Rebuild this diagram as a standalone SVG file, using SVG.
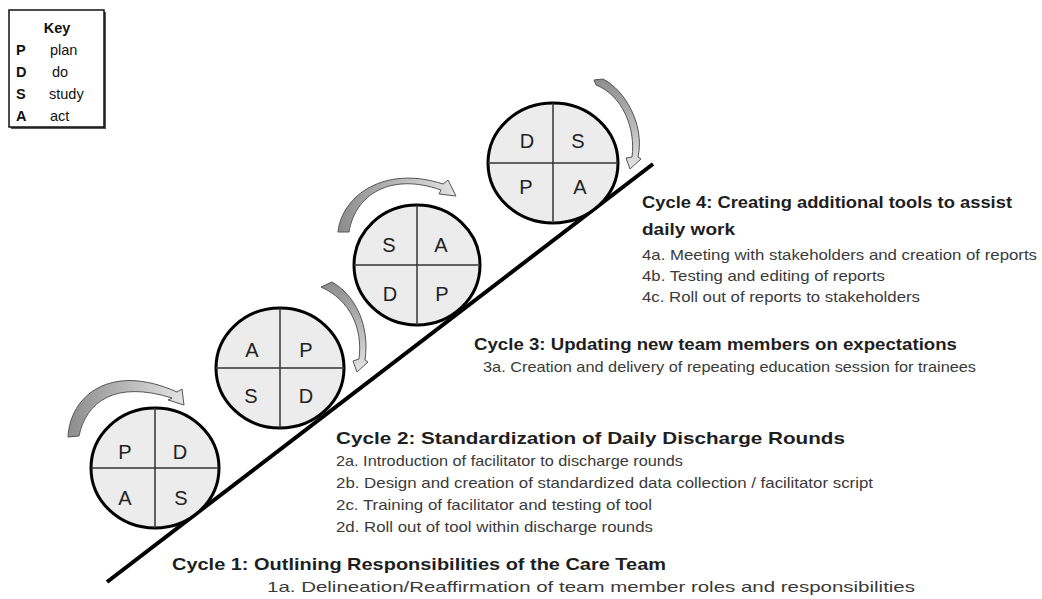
<svg xmlns="http://www.w3.org/2000/svg" width="1042" height="599" viewBox="0 0 1042 599">
<defs>
<style>
.circ{fill:#ececec;stroke:#000;stroke-width:3}
.div{stroke:#333;stroke-width:1.5;fill:none}
.lt{font-family:"Liberation Sans",Arial,sans-serif;font-size:20px;fill:#222;text-anchor:middle}
.ttl{font-family:"Liberation Sans",Arial,sans-serif;font-size:17px;font-weight:bold;fill:#1e1e1e}
.bd{font-family:"Liberation Sans",Arial,sans-serif;font-size:14.5px;fill:#3a3a3a}
.key{font-family:"Liberation Sans",Arial,sans-serif;font-size:14.5px;fill:#111}
.kb{font-weight:bold}
.arr{stroke:#555;stroke-width:1;stroke-linejoin:round}
</style>
<linearGradient id="gh" x1="0" y1="0" x2="1" y2="0">
<stop offset="0" stop-color="#8c8c8c"/><stop offset="1" stop-color="#e4e4e4"/>
</linearGradient>
<linearGradient id="gv" x1="0" y1="0" x2="0" y2="1">
<stop offset="0" stop-color="#8c8c8c"/><stop offset="1" stop-color="#e4e4e4"/>
</linearGradient>
</defs>
<rect width="1042" height="599" fill="#fff"/>

<g id="key">
<rect x="11" y="12" width="95" height="117" fill="#555"/>
<rect x="9" y="10" width="95" height="117" fill="#fff" stroke="#111" stroke-width="1.5"/>
<text class="key kb" x="57" y="33" text-anchor="middle">Key</text>
<text class="key kb" x="16" y="55">P</text><text class="key" x="50" y="55">plan</text>
<text class="key kb" x="16" y="77">D</text><text class="key" x="52" y="77">do</text>
<text class="key kb" x="16" y="99">S</text><text class="key" x="49" y="99">study</text>
<text class="key kb" x="16" y="121">A</text><text class="key" x="50" y="121">act</text>
</g>

<g id="connectors">
<line x1="107" y1="582" x2="653" y2="164" stroke="#000" stroke-width="4"/>
<path class="arr" fill="url(#gh)" d="M68,437 C70,396 110,362 177,392 L182,389 L184,405 L168,400 L172,398 C115,380 86,402 79,436 Z"/>
<path class="arr" fill="url(#gv)" d="M321,287 L332,282 C355,295 370,325 365,360 L368,362 L357,372 L353,361 L359,359 C363,328 350,300 321,287 Z"/>
<path class="arr" fill="url(#gh)" d="M338,232 C342,195 385,165 443,184 L448,180 L456,196 L439,194 L441,190 C390,172 355,195 349,232 Z"/>
<path class="arr" fill="url(#gv)" d="M594,80 L603,79 C625,90 645,125 638,157 L641,159 L630,169 L626,158 L632,157 C636,128 622,95 596,85 Z"/>
</g>

<g id="cycle1-circle">
<ellipse class="circ" cx="155" cy="468" rx="64" ry="60"/>
<line class="div" x1="91" y1="468" x2="219" y2="468"/>
<line class="div" x1="155" y1="408" x2="155" y2="528"/>
<text class="lt" x="125" y="459">P</text><text class="lt" x="180" y="459">D</text>
<text class="lt" x="125" y="505">A</text><text class="lt" x="181" y="505">S</text>
</g>

<g id="cycle2-circle">
<ellipse class="circ" cx="280" cy="368" rx="64" ry="60"/>
<line class="div" x1="216" y1="368" x2="344" y2="368"/>
<line class="div" x1="280" y1="308" x2="280" y2="428"/>
<text class="lt" x="252" y="357">A</text><text class="lt" x="306" y="357">P</text>
<text class="lt" x="251" y="403">S</text><text class="lt" x="306" y="403">D</text>
</g>

<g id="cycle3-circle">
<ellipse class="circ" cx="417" cy="265" rx="63" ry="60"/>
<line class="div" x1="354" y1="265" x2="480" y2="265"/>
<line class="div" x1="417" y1="205" x2="417" y2="325"/>
<text class="lt" x="389" y="252">S</text><text class="lt" x="441" y="252">A</text>
<text class="lt" x="390" y="301">D</text><text class="lt" x="442" y="301">P</text>
</g>

<g id="cycle4-circle">
<ellipse class="circ" cx="553" cy="163" rx="65" ry="60"/>
<line class="div" x1="488" y1="163" x2="618" y2="163"/>
<line class="div" x1="553" y1="103" x2="553" y2="223"/>
<text class="lt" x="527" y="148">D</text><text class="lt" x="578" y="148">S</text>
<text class="lt" x="526" y="194">P</text><text class="lt" x="580" y="194">A</text>
</g>

<g id="cycle4-text">
<text class="ttl" x="642" y="208" textLength="370" lengthAdjust="spacingAndGlyphs">Cycle 4: Creating additional tools to assist</text>
<text class="ttl" x="642" y="235" textLength="93" lengthAdjust="spacingAndGlyphs">daily work</text>
<text class="bd" x="642" y="260" textLength="395" lengthAdjust="spacingAndGlyphs">4a. Meeting with stakeholders and creation of reports</text>
<text class="bd" x="642" y="281" textLength="243" lengthAdjust="spacingAndGlyphs">4b. Testing and editing of reports</text>
<text class="bd" x="642" y="302" textLength="278" lengthAdjust="spacingAndGlyphs">4c. Roll out of reports to stakeholders</text>
</g>

<g id="cycle3-text">
<text class="ttl" x="474" y="350" textLength="483" lengthAdjust="spacingAndGlyphs">Cycle 3: Updating new team members on expectations</text>
<text class="bd" x="483" y="372" textLength="493" lengthAdjust="spacingAndGlyphs">3a. Creation and delivery of repeating education session for trainees</text>
</g>

<g id="cycle2-text">
<text class="ttl" x="336" y="444" textLength="509" lengthAdjust="spacingAndGlyphs">Cycle 2: Standardization of Daily Discharge Rounds</text>
<text class="bd" x="336" y="466" textLength="347" lengthAdjust="spacingAndGlyphs">2a. Introduction of facilitator to discharge rounds</text>
<text class="bd" x="336" y="488" textLength="537" lengthAdjust="spacingAndGlyphs">2b. Design and creation of standardized data collection / facilitator script</text>
<text class="bd" x="336" y="510" textLength="316" lengthAdjust="spacingAndGlyphs">2c. Training of facilitator and testing of tool</text>
<text class="bd" x="336" y="532" textLength="317" lengthAdjust="spacingAndGlyphs">2d. Roll out of tool within discharge rounds</text>
</g>

<g id="cycle1-text">
<text class="ttl" x="172" y="570" textLength="494" lengthAdjust="spacingAndGlyphs">Cycle 1: Outlining Responsibilities of the Care Team</text>
<text class="bd" x="267" y="592" textLength="648" lengthAdjust="spacingAndGlyphs">1a. Delineation/Reaffirmation of team member roles and responsibilities</text>
</g>
</svg>
